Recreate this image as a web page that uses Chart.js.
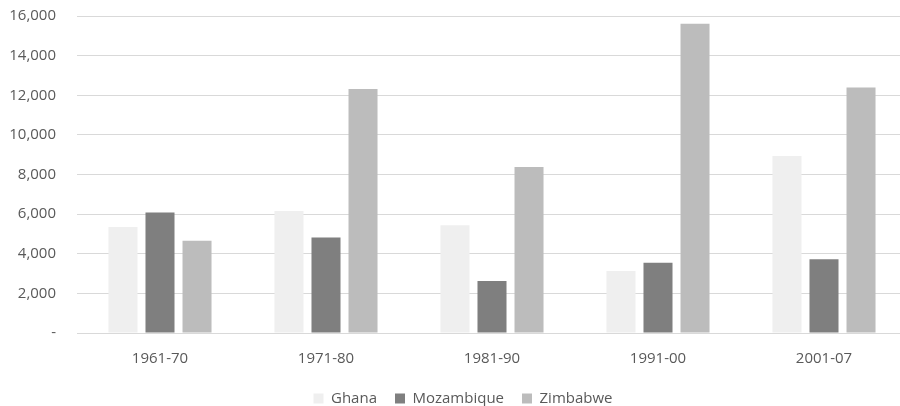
<!DOCTYPE html>
<html>
<head>
<meta charset="utf-8">
<script src="https://cdn.jsdelivr.net/npm/chart.js@4/dist/chart.umd.min.js"></script>
<style>
  html, body { margin: 0; padding: 0; background: #ffffff; overflow: hidden; }
  #wrap { width: 912px; height: 406px; }
</style>
</head>
<body>
<div id="wrap"><canvas id="chart" width="912" height="406"></canvas></div>
<script>
const periods = ['1961-70', '1971-80', '1981-90', '1991-00', '2001-07'];
const ghana = [5350, 6160, 5440, 3130, 8940];
const mozambique = [6080, 4820, 2630, 3540, 3720];
const zimbabwe = [4650, 12310, 8380, 15610, 12390];
const yTicks = [0, 2000, 4000, 6000, 8000, 10000, 12000, 14000, 16000];

const textColor = '#595959';
const gridColor = '#d9d9d9';
const fontFamily = '"Open Sans", "Noto Sans", sans-serif';

function series(label, data, color) {
  return {
    label: label,
    data: data,
    backgroundColor: color,
    borderWidth: 0,
    barPercentage: 0.784,
    categoryPercentage: 0.669
  };
}

// Tightens the legend box vertically and nudges it right so it sits under the plot.
const legendPlacement = {
  id: 'legendPlacement',
  beforeLayout(chart) {
    const legend = chart.legend;
    if (!legend || legend._placed) return;
    legend._placed = true;
    const fit = legend.fit;
    legend.fit = function () {
      fit.call(this);
      this.height -= 10;
    };
    const draw = legend.draw;
    legend.draw = function () {
      const ctx = this.ctx;
      ctx.save();
      ctx.translate(6, 0);
      draw.apply(this, arguments);
      ctx.restore();
    };
  }
};

new Chart(document.getElementById('chart'), {
  type: 'bar',
  data: {
    labels: periods,
    datasets: [
      series('Ghana', ghana, '#efefef'),
      series('Mozambique', mozambique, '#7f7f7f'),
      series('Zimbabwe', zimbabwe, '#bcbcbc')
    ]
  },
  plugins: [legendPlacement],
  options: {
    responsive: false,
    animation: false,
    devicePixelRatio: 1,
    layout: { padding: { left: 7, right: 5, top: 16, bottom: 0 } },
    plugins: {
      tooltip: { enabled: false },
      legend: {
        position: 'bottom',
        labels: {
          boxWidth: 10,
          boxHeight: 10,
          padding: 18,
          color: textColor,
          font: { family: fontFamily, size: 15 }
        }
      }
    },
    scales: {
      x: {
        afterFit: (scale) => { scale.height = 40; },
        grid: { display: false, drawTicks: false },
        border: { display: true, color: gridColor, width: 1 },
        ticks: {
          color: textColor,
          padding: 17,
          font: { family: fontFamily, size: 15 }
        }
      },
      y: {
        min: 0,
        max: 16000,
        afterBuildTicks: (scale) => { scale.ticks = yTicks.map(v => ({ value: v })); },
        afterFit: (scale) => { scale.width = 70; },
        grid: { color: gridColor, lineWidth: 1, drawTicks: true, tickLength: 18, tickColor: 'rgba(0,0,0,0)' },
        border: { display: false },
        ticks: {
          color: textColor,
          padding: 3,
          font: { family: fontFamily, size: 15 },
          callback: (v) => v === 0 ? '-' : v.toLocaleString('en-US')
        }
      }
    }
  }
});
</script>
</body>
</html>
